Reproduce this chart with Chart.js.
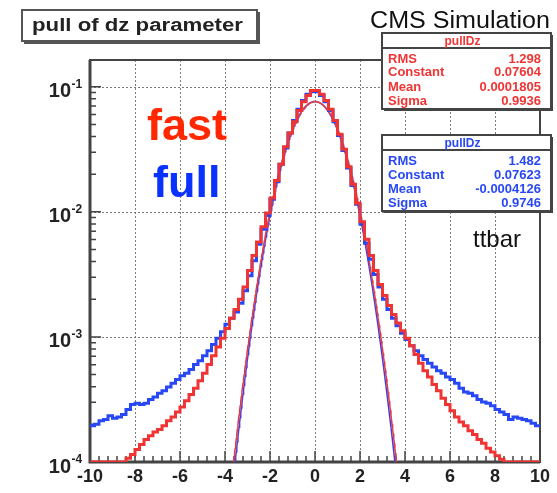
<!DOCTYPE html>
<html>
<head>
<meta charset="utf-8">
<script src="https://cdn.jsdelivr.net/npm/chart.js@4.4.1/dist/chart.umd.min.js"></script>
<style>
  html, body { margin: 0; padding: 0; background: #fff; }
  canvas { display: block; }
</style>
</head>
<body>
<canvas id="c" width="557" height="493"></canvas>
<script>
// Histogram binning of the dz pull
const binLow = -10;
const binHigh = 10;
const binCount = 100;

// fast simulation, content per bin (bins of 0.2 from -10 to 10)
const fastValues = [
  1.0e-4, 1.0e-4, 1.0e-4, 1.0e-4, 1.0e-4, 1.0e-4, 1.0e-4, 1.0e-4,
  1.07e-4, 1.15e-4, 1.26e-4, 1.38e-4, 1.51e-4, 1.62e-4, 1.74e-4, 1.82e-4, 1.95e-4, 2.14e-4,
  2.29e-4, 2.51e-4, 2.75e-4, 3.09e-4, 3.47e-4, 3.89e-4, 4.47e-4, 5.13e-4, 6.03e-4, 7.08e-4,
  8.32e-4, 9.77e-4, 1.17e-3, 1.41e-3, 1.66e-3, 2.00e-3, 2.51e-3, 3.39e-3, 4.47e-3, 5.75e-3,
  7.59e-3, 9.77e-3, 1.29e-2, 1.78e-2, 2.40e-2, 3.31e-2, 4.27e-2, 5.25e-2, 6.46e-2, 7.59e-2,
  8.51e-2, 9.33e-2,
  9.33e-2, 8.71e-2, 7.76e-2, 6.61e-2, 5.37e-2, 4.17e-2, 3.16e-2, 2.29e-2, 1.66e-2, 1.17e-2,
  8.32e-3, 6.03e-3, 4.47e-3, 3.39e-3, 2.63e-3, 2.14e-3, 1.78e-3, 1.51e-3, 1.29e-3, 1.12e-3,
  9.77e-4, 8.51e-4, 7.24e-4, 6.17e-4, 5.37e-4, 4.79e-4, 4.17e-4, 3.72e-4, 3.24e-4, 2.88e-4,
  2.57e-4, 2.29e-4, 2.09e-4, 1.95e-4, 1.78e-4, 1.66e-4, 1.51e-4, 1.41e-4, 1.29e-4, 1.20e-4,
  1.12e-4, 1.05e-4,
  1.0e-4, 1.0e-4, 1.0e-4, 1.0e-4, 1.0e-4, 1.0e-4, 1.0e-4, 1.0e-4
];

// full simulation, content per bin
const fullValues = [
  1.95e-4, 2.00e-4, 2.14e-4, 2.19e-4, 2.34e-4, 2.24e-4, 2.29e-4, 2.40e-4,
  2.63e-4, 2.88e-4, 2.95e-4, 2.88e-4, 2.95e-4, 3.16e-4, 3.31e-4, 3.55e-4, 3.72e-4, 3.98e-4,
  4.27e-4, 4.57e-4, 4.90e-4, 5.13e-4, 5.50e-4, 6.03e-4, 6.46e-4, 7.08e-4, 7.76e-4, 8.71e-4,
  9.77e-4, 1.10e-3, 1.26e-3, 1.41e-3, 1.58e-3, 1.86e-3, 2.34e-3, 3.09e-3, 4.07e-3, 5.50e-3,
  7.24e-3, 9.33e-3, 1.26e-2, 1.74e-2, 2.40e-2, 3.24e-2, 4.27e-2, 5.37e-2, 6.61e-2, 7.76e-2,
  8.71e-2, 9.12e-2,
  9.12e-2, 8.51e-2, 7.59e-2, 6.46e-2, 5.25e-2, 4.07e-2, 3.09e-2, 2.24e-2, 1.62e-2, 1.15e-2,
  7.94e-3, 5.62e-3, 4.17e-3, 3.16e-3, 2.51e-3, 2.00e-3, 1.66e-3, 1.41e-3, 1.23e-3, 1.07e-3,
  9.55e-4, 8.51e-4, 7.76e-4, 7.08e-4, 6.61e-4, 6.17e-4, 5.75e-4, 5.37e-4, 5.13e-4, 4.79e-4,
  4.57e-4, 4.27e-4, 3.89e-4, 3.63e-4, 3.55e-4, 3.39e-4, 3.16e-4, 3.02e-4, 2.95e-4, 2.82e-4,
  2.63e-4, 2.51e-4,
  2.40e-4, 2.19e-4, 2.29e-4, 2.24e-4, 2.19e-4, 2.14e-4, 2.04e-4, 1.95e-4
];

// Axis ticks and labels
const xTickValues = [-10, -8, -6, -4, -2, 0, 2, 4, 6, 8, 10];
const xTickLabels = ['-10', '-8', '-6', '-4', '-2', '0', '2', '4', '6', '8', '10'];
const yTickValues = [1e-4, 1e-3, 1e-2, 1e-1];
const yTickExponents = ['-4', '-3', '-2', '-1'];
const yMin = 1e-4;
const yMax = 0.1636;

// Statistics boxes (Gaussian fit results)
const statTitle = 'pullDz';
const statNames = ['RMS', 'Constant', 'Mean', 'Sigma'];
const fastStatTexts = ['1.298', '0.07604', '0.0001805', '0.9936'];
const fullStatTexts = ['1.482', '0.07623', '-0.0004126', '0.9746'];

const FONT = "'Liberation Sans', Arial, Helvetica, sans-serif";
const RED = 'rgb(240,52,52)';
const BLUE = 'rgb(40,72,245)';

function histPoints(vals) {
  const w = (binHigh - binLow) / binCount;
  const pts = vals.map((v, i) => ({ x: binLow + i * w, y: v }));
  pts.push({ x: binHigh, y: vals[vals.length - 1] });
  return pts;
}

// Gaussian fit curve from the fitted constant, mean and sigma
function fitPoints(stats) {
  const c = parseFloat(stats[1]), m = parseFloat(stats[2]), s = parseFloat(stats[3]);
  const pts = [];
  for (let x = -4.5; x <= 4.5001; x += 0.025) {
    const y = c * Math.exp(-0.5 * ((x - m) / s) ** 2);
    if (y > 2e-5) pts.push({ x: x, y: y });
  }
  return pts;
}

// text stretched horizontally to a given width, starting at x
function fillTextWidth(ctx, text, x, y, width) {
  const w = ctx.measureText(text).width;
  ctx.save();
  ctx.translate(x, y);
  ctx.scale(width / w, 1);
  ctx.textAlign = 'left';
  ctx.fillText(text, 0, 0);
  ctx.restore();
}

function statBox(ctx, x0, y0, x1, y1, sepY, rowYs, color, texts) {
  ctx.save();
  ctx.fillStyle = '#444';
  ctx.fillRect(x0 + 2, y0 + 2, x1 - x0, y1 - y0);
  ctx.fillStyle = '#fff';
  ctx.fillRect(x0, y0, x1 - x0, y1 - y0);
  ctx.strokeStyle = '#444';
  ctx.lineWidth = 2;
  ctx.strokeRect(x0, y0, x1 - x0, y1 - y0);
  ctx.beginPath();
  ctx.moveTo(x0, sepY);
  ctx.lineTo(x1, sepY);
  ctx.stroke();
  ctx.fillStyle = color;
  ctx.textBaseline = 'middle';
  ctx.font = 'bold 12px ' + FONT;
  ctx.textAlign = 'center';
  ctx.fillText(statTitle, (x0 + x1) / 2 - 4, (y0 + sepY) / 2 + 1);
  ctx.font = 'bold 13px ' + FONT;
  for (let i = 0; i < statNames.length; i++) {
    ctx.textAlign = 'left';
    ctx.fillText(statNames[i], x0 + 6, rowYs[i]);
    ctx.textAlign = 'right';
    ctx.fillText(texts[i], x1 - 10, rowYs[i]);
  }
  ctx.restore();
}

const decorations = {
  id: 'decorations',
  beforeDraw(chart) {
    const ctx = chart.ctx;
    ctx.save();
    ctx.fillStyle = '#fff';
    ctx.fillRect(0, 0, chart.width, chart.height);
    ctx.restore();
  },
  beforeDatasetsDraw(chart) {
    const ctx = chart.ctx;
    const a = chart.chartArea;
    const xs = chart.scales.x, ys = chart.scales.y;
    ctx.save();
    // dotted grid at the labelled ticks
    ctx.strokeStyle = 'rgba(100,100,100,0.85)';
    ctx.lineWidth = 1;
    ctx.setLineDash([2, 2]);
    ctx.beginPath();
    xTickValues.forEach(v => {
      const px = Math.round(xs.getPixelForValue(v)) + 0.5;
      ctx.moveTo(px, a.top);
      ctx.lineTo(px, a.bottom);
    });
    yTickValues.forEach(v => {
      const py = Math.round(ys.getPixelForValue(v)) + 0.5;
      ctx.moveTo(a.left, py);
      ctx.lineTo(a.right, py);
    });
    ctx.stroke();
    ctx.setLineDash([]);

    ctx.strokeStyle = '#444';
    // frame
    ctx.lineWidth = 2;
    ctx.strokeRect(a.left, a.top, a.right - a.left, a.bottom - a.top);
    ctx.lineWidth = 3;
    ctx.beginPath();
    ctx.moveTo(a.left, a.top);
    ctx.lineTo(a.left, a.bottom);
    ctx.lineTo(a.right, a.bottom);
    ctx.stroke();
    // x ticks (major every 2, minor every 0.4)
    ctx.lineWidth = 1.5;
    ctx.beginPath();
    for (let i = 0; i <= 50; i++) {
      const v = binLow + i * 0.4;
      const px = xs.getPixelForValue(v);
      const len = (i % 5 === 0) ? 11 : 6;
      ctx.moveTo(px, a.bottom);
      ctx.lineTo(px, a.bottom - len);
    }
    // y ticks (decades and 2..9 subdivisions)
    for (let d = -4; d <= -1; d++) {
      for (let k = 1; k <= 9; k++) {
        const v = k * Math.pow(10, d);
        if (v < yMin || v > yMax) continue;
        const py = ys.getPixelForValue(v);
        const len = (k === 1) ? 11 : 6;
        ctx.moveTo(a.left, py);
        ctx.lineTo(a.left + len, py);
      }
    }
    ctx.stroke();
    ctx.restore();
  },
  afterDraw(chart) {
    const ctx = chart.ctx;
    const a = chart.chartArea;
    const xs = chart.scales.x, ys = chart.scales.y;
    ctx.save();
    ctx.fillStyle = '#222';
    // x tick labels
    ctx.font = 'bold 18px ' + FONT;
    ctx.textAlign = 'center';
    ctx.textBaseline = 'middle';
    xTickValues.forEach((v, i) => {
      ctx.fillText(xTickLabels[i], xs.getPixelForValue(v), a.bottom + 15);
    });
    // y tick labels: 10 with exponent
    yTickValues.forEach((v, i) => {
      const py = ys.getPixelForValue(v);
      ctx.font = 'bold 20px ' + FONT;
      ctx.textAlign = 'right';
      ctx.fillText('10', 71, py + 5);
      ctx.font = 'bold 12px ' + FONT;
      ctx.textAlign = 'left';
      ctx.fillText(yTickExponents[i], 71.5, py - 2);
    });

    // title box
    ctx.fillStyle = '#555';
    ctx.fillRect(24, 12, 236, 32);
    ctx.fillStyle = '#fff';
    ctx.fillRect(22, 10, 235, 31);
    ctx.strokeStyle = '#555';
    ctx.lineWidth = 2;
    ctx.strokeRect(22, 10, 235, 31);
    ctx.fillStyle = '#222';
    ctx.font = 'bold 18px ' + FONT;
    ctx.textBaseline = 'middle';
    fillTextWidth(ctx, 'pull of dz parameter', 32, 26, 211);

    // stat boxes
    statBox(ctx, 382, 33, 551, 109, 48, [59, 72, 87, 101], RED, fastStatTexts);
    statBox(ctx, 382, 135, 551, 211, 150, [161, 175, 189, 203], BLUE, fullStatTexts);

    // annotations
    ctx.textAlign = 'left';
    ctx.textBaseline = 'alphabetic';
    ctx.fillStyle = '#111';
    ctx.font = '23px ' + FONT;
    fillTextWidth(ctx, 'CMS Simulation', 370, 28, 180);
    ctx.font = '24px ' + FONT;
    ctx.fillText('ttbar', 473, 247);
    ctx.font = 'bold 45px ' + FONT;
    ctx.fillStyle = 'rgb(255,40,0)';
    ctx.fillText('fast', 147, 140);
    ctx.fillStyle = 'rgb(10,50,255)';
    ctx.fillText('full', 153, 197);
    ctx.restore();
  }
};

new Chart(document.getElementById('c'), {
  type: 'line',
  data: {
    datasets: [
      { label: 'fast', data: histPoints(fastValues), stepped: 'before', borderColor: RED, borderWidth: 3, pointRadius: 0, fill: false },
      { label: 'full', data: histPoints(fullValues), stepped: 'before', borderColor: BLUE, borderWidth: 3, pointRadius: 0, fill: false },
      { label: 'fast fit', data: fitPoints(fastStatTexts), borderColor: 'rgb(225,60,70)', borderWidth: 1.5, pointRadius: 0, tension: 0, fill: false },
      { label: 'full fit', data: fitPoints(fullStatTexts), borderColor: 'rgb(70,60,230)', borderWidth: 1.5, pointRadius: 0, tension: 0, fill: false }
    ]
  },
  options: {
    responsive: false,
    animation: false,
    layout: { padding: { left: 90, right: 17, top: 60, bottom: 31 } },
    plugins: { legend: { display: false }, tooltip: { enabled: false } },
    scales: {
      x: {
        type: 'linear', min: binLow, max: binHigh,
        ticks: { display: false, stepSize: 2 },
        grid: { display: false, drawTicks: false },
        border: { display: false }
      },
      y: {
        type: 'logarithmic', min: yMin, max: yMax,
        afterBuildTicks: (scale) => { scale.ticks = yTickValues.map(v => ({ value: v })); },
        ticks: { display: false },
        grid: { display: false, drawTicks: false },
        border: { display: false }
      }
    }
  },
  plugins: [decorations]
});
</script>
</body>
</html>
